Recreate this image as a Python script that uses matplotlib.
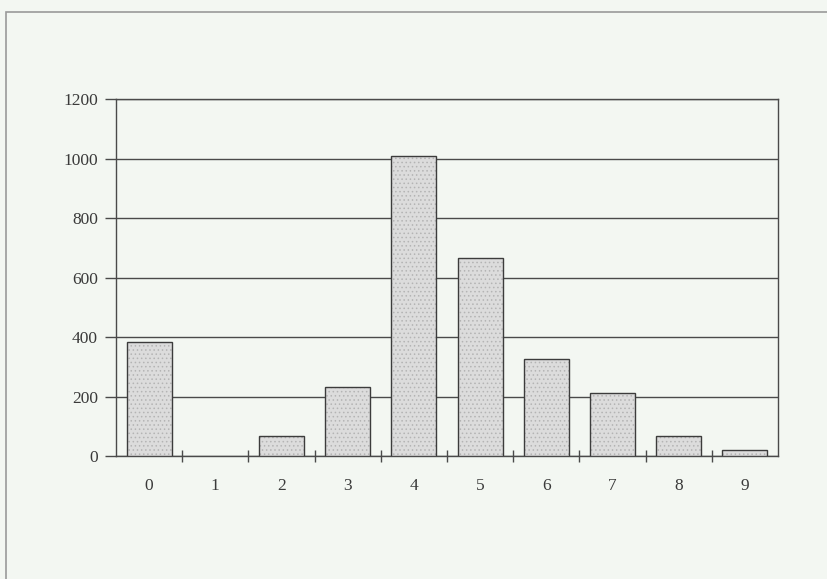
import matplotlib.pyplot as plt
from matplotlib.patches import Rectangle

categories = ["0", "1", "2", "3", "4", "5", "6", "7", "8", "9"]
counts = [383, 0, 68, 233, 1008, 664, 326, 213, 67, 21]
y_ticks = [0, 200, 400, 600, 800, 1000, 1200]

bg = "#f3f7f2"
ink = "#3a3a3a"

plt.rcParams["font.family"] = ["Liberation Serif", "DejaVu Serif"]
plt.rcParams["hatch.linewidth"] = 0.6

fig = plt.figure(figsize=(8.27, 5.79), dpi=100, facecolor=bg)
ax = fig.add_axes([0.1403, 0.2124, 0.8004, 0.6166], facecolor=bg)

# outer chart frame
fig.patches.append(Rectangle((0.0073, -0.05), 1.05, 1.03, transform=fig.transFigure,
                             fill=False, edgecolor="#9a9a9a", linewidth=1.2))

x = list(range(len(categories)))
# dotted fill, then dark outline on top
ax.bar(x, counts, width=0.68, color="#dcdcdc", edgecolor="#b4b4b4",
       hatch="....", linewidth=0, zorder=3)
ax.bar([i for i in x if counts[i] > 0], [c for c in counts if c > 0], width=0.68,
       fill=False, edgecolor="#3c3c3c", linewidth=1.0, zorder=4)

ax.set_xlim(-0.5, len(categories) - 0.5)
ax.set_ylim(0, 1200)
ax.set_yticks(y_ticks)
ax.yaxis.grid(True, color="#4a4a4a", linewidth=1.0, zorder=1)
ax.set_axisbelow(True)

ax.set_xticks(x)
ax.set_xticklabels(categories)
ax.set_xticks([i + 0.5 for i in x[:-1]], minor=True)
ax.tick_params(axis="x", which="major", length=0, pad=16, labelsize=12.5, labelcolor=ink)
ax.tick_params(axis="x", which="minor", direction="inout", length=8, width=1, color="#4a4a4a")
ax.tick_params(axis="y", direction="out", length=8, width=1, color="#4a4a4a",
               pad=5, labelsize=12.5, labelcolor=ink)

for side in ["left", "bottom", "right", "top"]:
    ax.spines[side].set_color("#4a4a4a")
    ax.spines[side].set_linewidth(1.0)

fig.savefig("out.png", dpi=100, facecolor=bg)
